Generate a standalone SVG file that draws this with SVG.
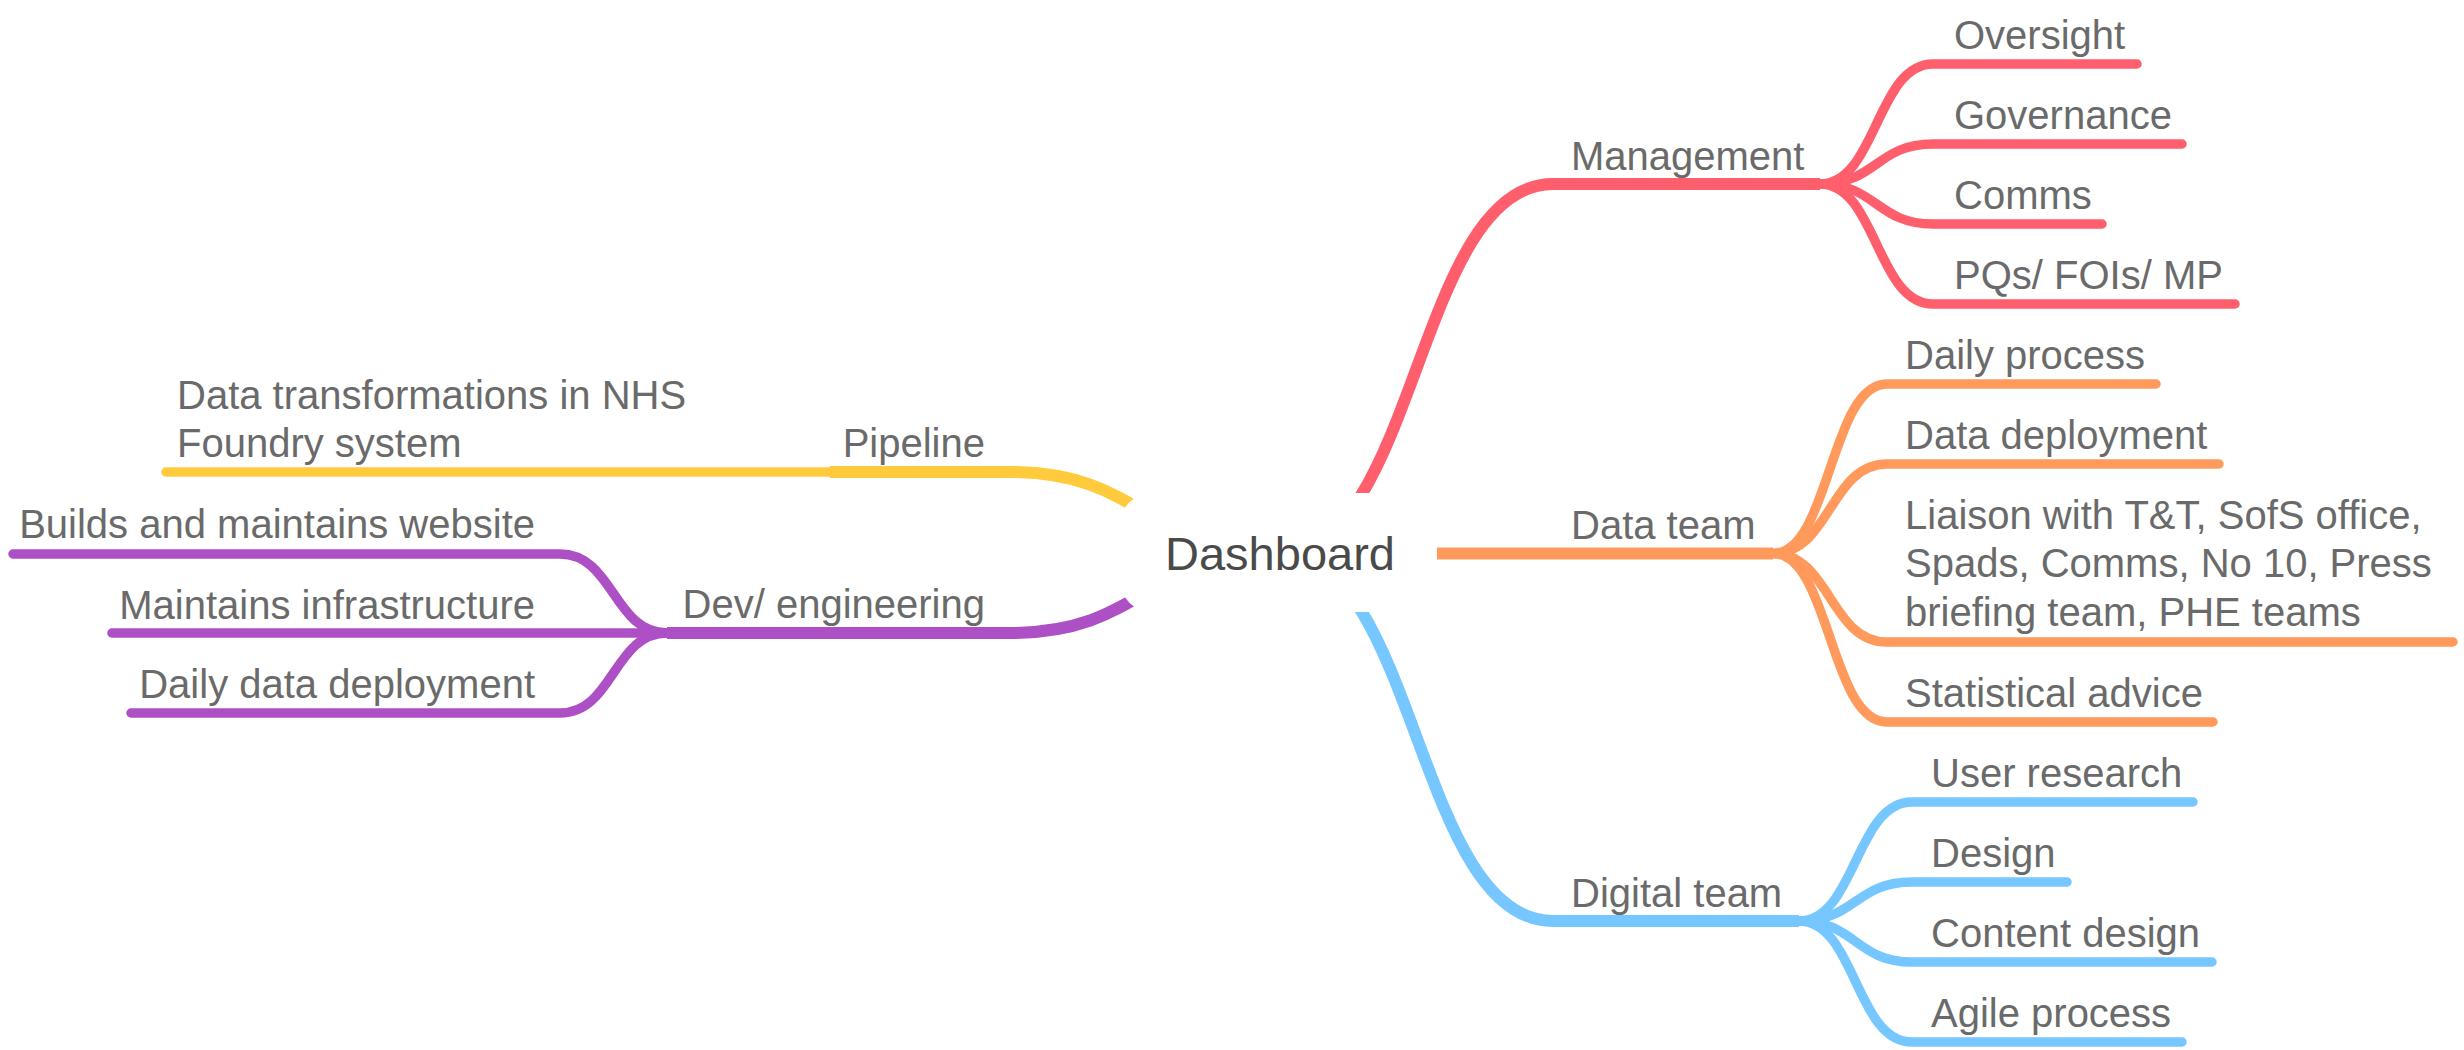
<svg xmlns="http://www.w3.org/2000/svg" width="2464" height="1050" viewBox="0 0 2464 1050">
  <style>
    .lbl { font-family: "Liberation Sans", Arial, Helvetica, sans-serif; font-size: 40px; fill: #6a6a6a; }
    .root { font-family: "Liberation Sans", Arial, Helvetica, sans-serif; font-size: 47px; fill: #4a4a4a; }
    .main { fill: none; stroke-width: 12; stroke-linecap: butt; }
    .sub { fill: none; stroke-width: 9.5; stroke-linecap: round; }
    .red { stroke: #ff5f6c; }
    .orange { stroke: #ff9a5c; }
    .blue { stroke: #76c7ff; }
    .yellow { stroke: #ffcb3c; }
    .purple { stroke: #ae50c5; }
  </style>
  <defs>
    <clipPath id="hole">
      <path clip-rule="evenodd" d="M0,0 H2464 V1050 H0 Z M1152,493 H1405 A32,32 0 0 1 1437,525 V580 A32,32 0 0 1 1405,612 H1152 A32,32 0 0 1 1120,580 V525 A32,32 0 0 1 1152,493 Z"/>
    </clipPath>
  </defs>
  <rect width="2464" height="1050" fill="#ffffff"/>

  <g id="connectors">
    <g clip-path="url(#hole)">
      <path class="main red" d="M1280,553 C1416.5,553 1416.5,184 1553,184 H1820"/>
      <path class="main orange" d="M1280,553.5 H1773"/>
      <path class="main blue" d="M1280,553 C1416.5,553 1416.5,921 1553,921 H1799"/>
      <path class="main yellow" d="M1280,553 C1145,553 1145,472 1010,472 H830"/>
      <path class="main purple" d="M1280,553 C1145,553 1145,633 1010,633 H667"/>
    </g>
    <path class="sub red" d="M1820,184 C1876.5,184 1876.5,64 1933,64 H2137"/>
    <path class="sub red" d="M1820,184 C1876.5,184 1876.5,144 1933,144 H2182"/>
    <path class="sub red" d="M1820,184 C1876.5,184 1876.5,224 1933,224 H2102"/>
    <path class="sub red" d="M1820,184 C1876.5,184 1876.5,304 1933,304 H2235"/>

    <path class="sub orange" d="M1773,553.5 C1830,553.5 1830,384 1887,384 H2156"/>
    <path class="sub orange" d="M1773,553.5 C1830,553.5 1830,464 1887,464 H2219"/>
    <path class="sub orange" d="M1773,553.5 C1830,553.5 1830,642 1887,642 H2453"/>
    <path class="sub orange" d="M1773,553.5 C1830,553.5 1830,722 1887,722 H2213"/>

    <path class="sub blue" d="M1799,921 C1855.5,921 1855.5,802 1912,802 H2193"/>
    <path class="sub blue" d="M1799,921 C1855.5,921 1855.5,882 1912,882 H2067"/>
    <path class="sub blue" d="M1799,921 C1855.5,921 1855.5,962 1912,962 H2212"/>
    <path class="sub blue" d="M1799,921 C1855.5,921 1855.5,1042 1912,1042 H2182"/>

    <path class="sub yellow" d="M830,472 H166"/>

    <path class="sub purple" d="M667,633 C613.5,633 613.5,554 560,554 H13"/>
    <path class="sub purple" d="M667,633 H112"/>
    <path class="sub purple" d="M667,633 C613.5,633 613.5,713 560,713 H131"/>
  </g>

  <g id="dashboard"><text class="root" x="1280" y="570" text-anchor="middle">Dashboard</text></g>

  <g id="management"><text class="lbl" x="1571" y="170">Management</text></g>
  <g id="oversight"><text class="lbl" x="1954" y="49">Oversight</text></g>
  <g id="governance"><text class="lbl" x="1954" y="129">Governance</text></g>
  <g id="comms"><text class="lbl" x="1954" y="209">Comms</text></g>
  <g id="pqs"><text class="lbl" x="1954" y="289">PQs/ FOIs/ MP</text></g>

  <g id="data-team"><text class="lbl" x="1571" y="539">Data team</text></g>
  <g id="daily-process"><text class="lbl" x="1905" y="369">Daily process</text></g>
  <g id="data-deployment"><text class="lbl" x="1905" y="449">Data deployment</text></g>
  <g id="liaison"><text class="lbl" x="1905" y="529">Liaison with T&amp;T, SofS office,<tspan x="1905" y="577">Spads, Comms, No 10, Press</tspan><tspan x="1905" y="626">briefing team, PHE teams</tspan></text></g>
  <g id="statistical-advice"><text class="lbl" x="1905" y="707">Statistical advice</text></g>

  <g id="digital-team"><text class="lbl" x="1571" y="907">Digital team</text></g>
  <g id="user-research"><text class="lbl" x="1931" y="787">User research</text></g>
  <g id="design"><text class="lbl" x="1931" y="867">Design</text></g>
  <g id="content-design"><text class="lbl" x="1931" y="947">Content design</text></g>
  <g id="agile-process"><text class="lbl" x="1931" y="1027">Agile process</text></g>

  <g id="pipeline"><text class="lbl" x="985" y="457" text-anchor="end">Pipeline</text></g>
  <g id="data-transformations"><text class="lbl" x="177" y="409">Data transformations in NHS<tspan x="177" y="457">Foundry system</tspan></text></g>

  <g id="dev-engineering"><text class="lbl" x="985" y="618" text-anchor="end">Dev/ engineering</text></g>
  <g id="builds-website"><text class="lbl" x="535" y="538" text-anchor="end">Builds and maintains website</text></g>
  <g id="maintains-infrastructure"><text class="lbl" x="535" y="619" text-anchor="end">Maintains infrastructure</text></g>
  <g id="daily-data-deployment"><text class="lbl" x="535" y="698" text-anchor="end">Daily data deployment</text></g>
</svg>
